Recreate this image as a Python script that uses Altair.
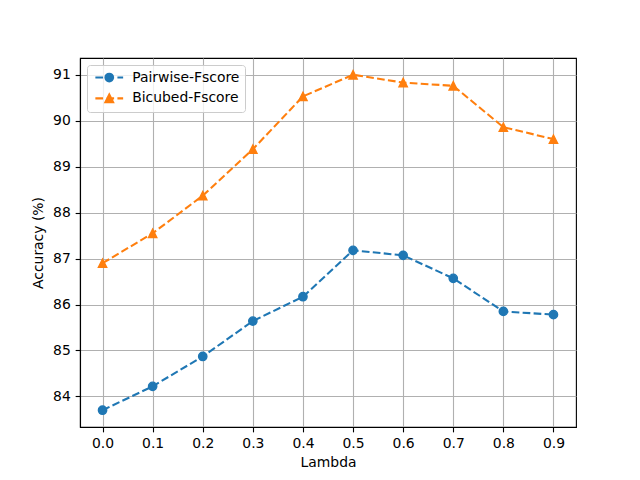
import altair as alt
import pandas as pd

lambdas = [0.0, 0.1, 0.2, 0.3, 0.4, 0.5, 0.6, 0.7, 0.8, 0.9]
pairwise = [83.70, 84.22, 84.87, 85.64, 86.17, 87.18, 87.07, 86.57, 85.85, 85.78]
bicubed = [86.90, 87.55, 88.37, 89.38, 90.53, 91.00, 90.83, 90.76, 89.86, 89.60]
series_names = ["Pairwise-Fscore", "Bicubed-Fscore"]
colors = ["#1f77b4", "#ff7f0e"]
y_ticks = [84, 85, 86, 87, 88, 89, 90, 91]

rows = []
for name, vals in zip(series_names, [pairwise, bicubed]):
    for l, v in zip(lambdas, vals):
        rows.append({"series": name, "lambda": l, "acc": v})
df = pd.DataFrame(rows)

FONT = "DejaVu Sans"
x_enc = alt.X("lambda:Q", scale=alt.Scale(domain=[-0.045, 0.945], nice=False, zero=False),
              axis=alt.Axis(values=lambdas, format=".1f", title="Lambda"))
y_enc = alt.Y("acc:Q", scale=alt.Scale(domain=[83.335, 91.365], nice=False, zero=False),
              axis=alt.Axis(values=y_ticks, format="d", title="Accuracy (%)"))

dash = [7.7, 3.3]
tri_path = "M0,-1L1,1L-1,1Z"

layers = []
for name, col, shp in zip(series_names, colors, ["circle", tri_path]):
    base = alt.Chart(df).transform_filter(alt.datum.series == name)
    layers.append(base.mark_line(color=col, strokeWidth=2.08, strokeDash=dash).encode(x=x_enc, y=y_enc))
    layers.append(base.mark_point(shape=shp, filled=True, fill=col, stroke=col, strokeWidth=1.39,
                                  size=69.4, opacity=1).encode(x=x_enc, y=y_enc))

# legend symbols: dashed line + marker (unit = marker radius ~4.17px)
segs = "M-3.333,0L-1.486,0M-0.686,0L1.161,0M1.961,0L3.333,0"
circ = "M-0.92,0A0.92,0.92 0 1,1 0.92,0A0.92,0.92 0 1,1 -0.92,0Z"
tri = "M0,-0.92L0.92,0.92L-0.92,0.92Z"
leg_shapes = [segs + circ, segs + tri]

leg = alt.Legend(orient="none", legendX=7, legendY=7, title=None, symbolSize=69.4,
                 symbolStrokeWidth=2.08, labelFontSize=13.9, labelFont=FONT, labelColor="black",
                 fillColor="rgba(255,255,255,0.8)", strokeColor="#cccccc", cornerRadius=3,
                 padding=5.6, rowPadding=3.8, symbolOffset=9.7, labelOffset=16)

legend_layer = alt.Chart(df).transform_filter("false").mark_point(opacity=1, strokeWidth=2.08).encode(
    x=x_enc, y=y_enc,
    fill=alt.Fill("series:N", scale=alt.Scale(domain=series_names, range=colors), legend=leg),
    stroke=alt.Stroke("series:N", scale=alt.Scale(domain=series_names, range=colors), legend=leg),
    shape=alt.Shape("series:N", scale=alt.Scale(domain=series_names, range=leg_shapes), legend=leg),
)
layers.append(legend_layer)

chart = alt.layer(*layers).properties(
    width=496, height=369,
    padding={"left": 72, "top": 50, "right": 56, "bottom": 45},
    autosize=alt.AutoSizeParams(type="none"),
).configure_view(stroke="black", strokeWidth=1.11).configure_axis(
    grid=True, gridColor="#b0b0b0", gridWidth=1.11, domain=True, domainColor="black",
    domainWidth=1.11, tickColor="black", tickWidth=1.11, tickSize=4.86, labelPadding=4.86,
    labelFont=FONT, labelFontSize=13.9, labelColor="black", titleFont=FONT, titleFontSize=13.9,
    titleFontWeight="normal", titleColor="black", labelFlush=False, labelOverlap=False,
).configure_axisY(titlePadding=7).configure_axisX(titlePadding=5)

chart.save("out.html", embed_options={"renderer": "svg", "actions": False})
